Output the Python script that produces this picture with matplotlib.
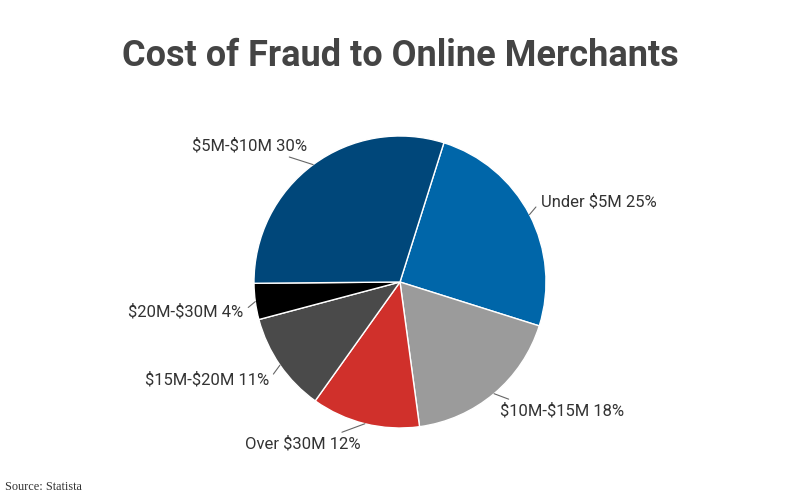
import matplotlib

matplotlib.use("Agg")
import matplotlib.pyplot as plt  # noqa: E402
import numpy as np  # noqa: E402

LABELS = ["Under \\$5M", "\\$10M-\\$15M", "Over \\$30M", "\\$15M-\\$20M", "\\$20M-\\$30M", "\\$5M-\\$10M"]
SHARES = [25, 18, 12, 11, 4, 30]
COLOURS = ["#0066a9", "#9b9b9b", "#d0302b", "#4a4a4a", "#000000", "#00477a"]

# label placement: offset of text from the slice edge (pixels), alignment, leader anchor on text
LABEL_STYLE = [
    ((11, 13), "left", (0.0, 0.5)),
    ((6, -17), "left", (0.15, 1.0)),
    ((-62, -20), "center", (0.75, 1.0)),
    ((-11, -15), "right", (1.0, 0.5)),
    ((-12, -10), "right", (1.0, 0.5)),
    ((-64, 19), "center", (0.75, 0.0)),
]

plt.rcParams["font.family"] = ["Roboto", "DejaVu Sans"]

fig = plt.figure(figsize=(8, 5), dpi=100)
ax = fig.add_axes([0.3175, 0.144, 0.365, 0.584])
wedges, _ = ax.pie(
    SHARES,
    colors=COLOURS,
    startangle=72.5,
    counterclock=False,
    wedgeprops=dict(edgecolor="white", linewidth=1.0),
)
ax.set_xlim(-1, 1)
ax.set_ylim(-1, 1)
ax.set_aspect("equal")

for w, lab, val, (off, ha, rel) in zip(wedges, LABELS, SHARES, LABEL_STYLE):
    mid = np.deg2rad((w.theta1 + w.theta2) / 2)
    ax.annotate(
        f"{lab} {val}%",
        xy=(np.cos(mid), np.sin(mid)),
        xytext=off,
        textcoords="offset pixels",
        ha=ha,
        va="center",
        fontsize=12,
        color="#333333",
        annotation_clip=False,
        arrowprops=dict(arrowstyle="-", color="#666666", lw=0.8, relpos=rel,
                        shrinkA=2, shrinkB=0),
    )

fig.text(0.5, 0.888, "Cost of Fraud to Online Merchants", ha="center", va="center",
         fontsize=26, fontweight="bold", color="#444444")
fig.text(0.006, 0.026, "Source: Statista", ha="left", va="center", fontsize=8.8,
         family=["Liberation Serif", "DejaVu Serif"], color="#333333")

fig.savefig("out.png", dpi=100)
